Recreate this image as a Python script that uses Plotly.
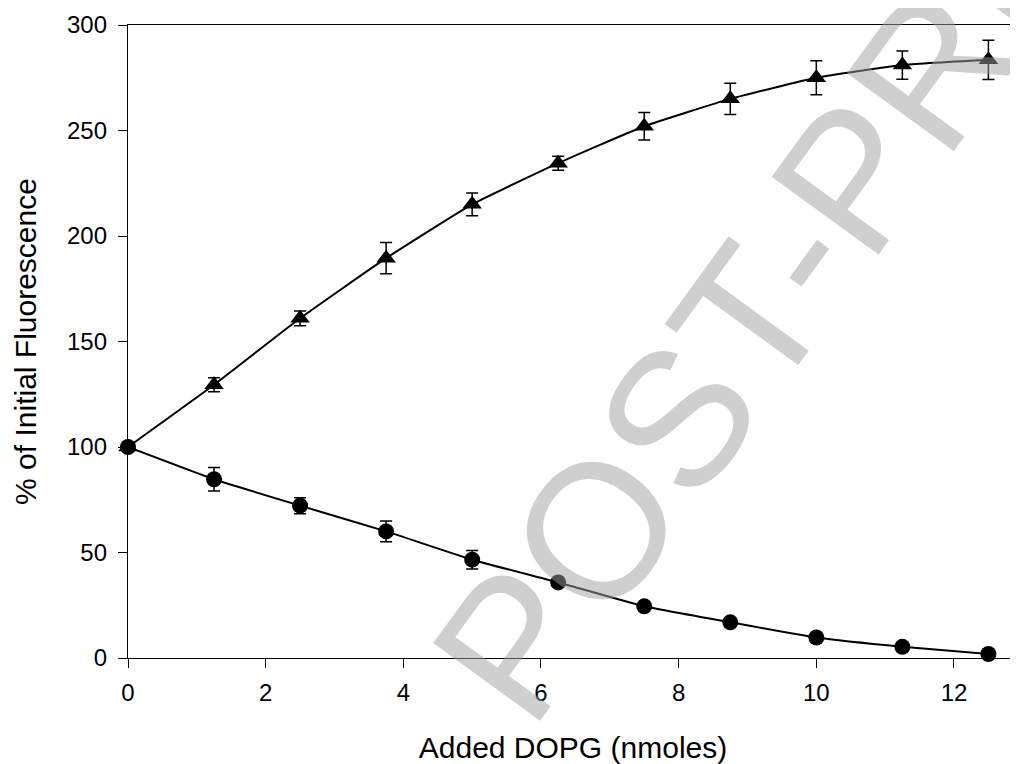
import plotly.graph_objects as go

# Data
dopg = [0, 1.25, 2.5, 3.75, 5, 6.25, 7.5, 8.75, 10, 11.25, 12.5]
tri_vals = [100, 129.5, 161.0, 189.5, 215.0, 234.5, 252.0, 265.0, 275.0, 281.0, 283.5]
tri_err = [0, 3.3, 3.5, 7.4, 5.4, 3.3, 6.5, 7.4, 8.0, 6.7, 9.3]
circ_vals = [100, 84.7, 72.2, 60.0, 46.6, 35.8, 24.5, 16.9, 9.7, 5.3, 1.9]
circ_err = [0, 5.6, 3.8, 4.9, 4.4, 1.0, 0, 0, 0, 0, 0]

x_ticks = [0, 2, 4, 6, 8, 10, 12]
y_ticks = [0, 50, 100, 150, 200, 250, 300]

FONT = "Liberation Sans, Arial, Helvetica, sans-serif"

# page body has an 8px margin in the browser; figure sized to fill the rest
W, H = 1010, 756
L, R, T, B = 120, 0, 17, 106
pw, ph = W - L - R, H - T - B

fig = go.Figure()

fig.add_trace(go.Scatter(
    x=dopg, y=tri_vals, mode="lines+markers",
    line=dict(color="black", width=2, shape="spline", smoothing=0.4),
    marker=dict(symbol="triangle-up", size=17, color="black"),
    error_y=dict(type="data", array=tri_err, visible=True, color="black",
                 thickness=1.5, width=6),
    cliponaxis=False, showlegend=False,
))

fig.add_trace(go.Scatter(
    x=dopg, y=circ_vals, mode="lines+markers",
    line=dict(color="black", width=2, shape="spline", smoothing=0.4),
    marker=dict(symbol="circle", size=16, color="black"),
    error_y=dict(type="data", array=circ_err, visible=True, color="black",
                 thickness=1.5, width=6),
    cliponaxis=False, showlegend=False,
))

# watermark centre in page pixels (reference), converted to paper coords
wm_px, wm_py = 815, 228
fig.update_layout(
    width=W, height=H,
    margin=dict(l=L, r=R, t=T, b=B),
    paper_bgcolor="white", plot_bgcolor="white",
    font=dict(family=FONT, color="black", size=24),
    xaxis=dict(
        range=[0, 12.93], tickvals=x_ticks, ticktext=[str(v) for v in x_ticks],
        showgrid=False, zeroline=False,
        showline=True, linecolor="black", linewidth=1.3, mirror=True,
        ticks="outside", ticklen=9, tickwidth=1.3, tickcolor="black",
        tickfont=dict(size=24, family=FONT), ticklabelstandoff=4,
        title=dict(text="Added DOPG (nmoles)", font=dict(size=30, family=FONT), standoff=34),
    ),
    yaxis=dict(
        range=[0, 300], tickvals=y_ticks, ticktext=[str(v) for v in y_ticks],
        showgrid=False, zeroline=False,
        showline=True, linecolor="black", linewidth=1.3,
        ticks="outside", ticklen=9, tickwidth=1.3, tickcolor="black",
        tickfont=dict(size=24, family=FONT), ticklabelstandoff=6,
        title=dict(text="% of Initial Fluorescence", font=dict(size=30, family=FONT), standoff=21),
    ),
    annotations=[dict(
        text="POST-PRINT", xref="paper", yref="paper",
        x=(wm_px - 8 - L) / pw, y=(H - B - (wm_py - 8)) / ph,
        xanchor="center", yanchor="middle", showarrow=False,
        textangle=-54,
        font=dict(size=192, family=FONT, color="rgba(160,160,160,0.5)"),
    )],
)

fig.write_html("out.html")
